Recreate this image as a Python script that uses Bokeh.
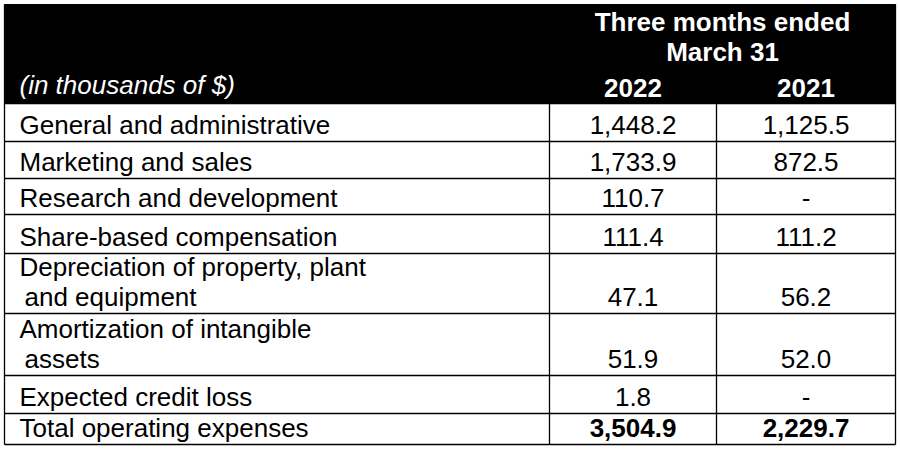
from bokeh.plotting import figure
from bokeh.models import Range1d
from bokeh.core.properties import value
from bokeh.embed import file_html
from bokeh.resources import INLINE

# ---- data ----
title_lines = ["Three months ended", "March 31"]
unit_label = "(in thousands of $)"
years = ["2022", "2021"]
row_labels = [
    ["General and administrative"],
    ["Marketing and sales"],
    ["Research and development"],
    ["Share-based compensation"],
    ["Depreciation of property, plant", "and equipment"],
    ["Amortization of intangible", "assets"],
    ["Expected credit loss"],
    ["Total operating expenses"],
]
values_2022 = [1448.2, 1733.9, 110.7, 111.4, 47.1, 51.9, 1.8, 3504.9]
values_2021 = [1125.5, 872.5, None, 111.2, 56.2, 52.0, None, 2229.7]
bold_rows = [False, False, False, False, False, False, False, True]

# ---- layout (reference pixel coordinates) ----
W, H = 898, 448
col_edges = [4, 549, 716, 895]
table_top = 4
row_edges = [103, 141, 178, 214, 253, 313, 375, 413, 444]
FONT = value("Liberation Sans")
FS = "26px"
LINE_GAP = 30
TXT_SHIFT = 8  # compensation for renderer baseline placement

p = figure(width=W, height=H, output_backend="svg", toolbar_location=None,
           x_range=Range1d(0, W), y_range=Range1d(H, 0),
           min_border=0, outline_line_color=None, background_fill_color="white",
           border_fill_color="white")
p.axis.visible = False
p.grid.visible = False

# header block
p.quad(left=[col_edges[0]], right=[col_edges[-1]], top=[table_top], bottom=[row_edges[0]],
       fill_color="black", line_color="black")

# grid lines
xs, ys = [], []
for y in row_edges:
    xs.append([col_edges[0], col_edges[-1]]); ys.append([y, y])
for x in col_edges:
    top = table_top if x in (col_edges[0], col_edges[-1]) else row_edges[0]
    xs.append([x, x]); ys.append([top, row_edges[-1]])
p.multi_line(xs, ys, line_color="black", line_width=1.3)

def by(y):
    return y - TXT_SHIFT

# header texts
hdr_center = (col_edges[1] + col_edges[3]) / 2
p.text(x=[hdr_center] * 2, y=[by(29), by(59)], text=title_lines, text_font=FONT,
       text_font_size=FS, text_font_style="bold", text_color="white",
       text_align="center", text_baseline="alphabetic")
col_centers = [(col_edges[i] + col_edges[i + 1]) / 2 for i in (1, 2)]
p.text(x=col_centers, y=[by(95), by(95)], text=years, text_font=FONT, text_font_size=FS,
       text_font_style="bold", text_color="white", text_align="center",
       text_baseline="alphabetic")
p.text(x=[19], y=[by(92)], text=[unit_label], text_font=FONT, text_font_size=FS,
       text_font_style="italic", text_color="white", text_align="left",
       text_baseline="alphabetic")

# body texts
def fmt(v):
    return "-" if v is None else f"{v:,.1f}"

lx, ly, lt = [], [], []
for i, lines in enumerate(row_labels):
    bottom = row_edges[i + 1]
    base = bottom - 9
    n = len(lines)
    for j, t in enumerate(lines):
        lx.append(19 if j == 0 else 24)
        ly.append(by(base - (n - 1 - j) * LINE_GAP))
        lt.append(t)
p.text(x=lx, y=ly, text=lt, text_font=FONT, text_font_size=FS, text_color="black",
       text_align="left", text_baseline="alphabetic")

for style in ("normal", "bold"):
    vx, vy, vt = [], [], []
    for i in range(len(row_labels)):
        if (style == "bold") != bold_rows[i]:
            continue
        base = row_edges[i + 1] - 9
        for c, vals in zip(col_centers, (values_2022, values_2021)):
            vx.append(c); vy.append(by(base)); vt.append(fmt(vals[i]))
    p.text(x=vx, y=vy, text=vt, text_font=FONT, text_font_size=FS,
           text_font_style=style, text_color="black", text_align="center",
           text_baseline="alphabetic")

open("out.html", "w").write(file_html(p, INLINE))
